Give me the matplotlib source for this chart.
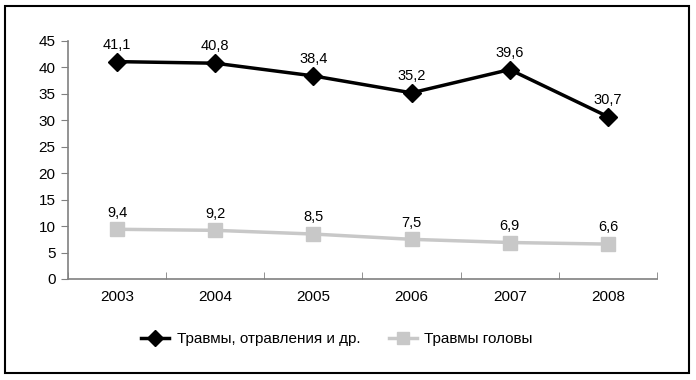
import matplotlib
matplotlib.use("Agg")
import matplotlib.pyplot as plt
from matplotlib.patches import Rectangle

plt.rcParams['font.family'] = ['Liberation Sans', 'DejaVu Sans']

years = ["2003", "2004", "2005", "2006", "2007", "2008"]
injuries = [41.1, 40.8, 38.4, 35.2, 39.6, 30.7]
head = [9.4, 9.2, 8.5, 7.5, 6.9, 6.6]
series_names = ["Травмы, отравления и др.", "Травмы головы"]
yticks = [0, 5, 10, 15, 20, 25, 30, 35, 40, 45]

fig = plt.figure(figsize=(6.96, 3.80), dpi=100)
fig.patches.append(Rectangle((5/696, 1-373/380), 684/696, 367/380, transform=fig.transFigure,
                             fill=False, edgecolor='black', linewidth=1.5))
ax = fig.add_axes([68/696, 1-279/380, (657-68)/696, (279-41)/380])

x = list(range(len(years)))
ax.plot(x, injuries, color='black', linewidth=2.5, marker='D', markersize=9,
        label=series_names[0], zorder=3)
ax.plot(x, head, color='#c8c8c8', linewidth=2.5, marker='s', markersize=10,
        label=series_names[1], zorder=3)

for xi, v in zip(x, injuries):
    ax.annotate(f"{v:.1f}".replace('.', ','), (xi, v), xytext=(0, 7),
                textcoords='offset points', ha='center', va='bottom', fontsize=10.5)
for xi, v in zip(x, head):
    ax.annotate(f"{v:.1f}".replace('.', ','), (xi, v), xytext=(0, 7),
                textcoords='offset points', ha='center', va='bottom', fontsize=10.5)

ax.set_xlim(-0.5, len(years) - 0.5)
ax.set_ylim(0, 45)
ax.set_yticks(yticks)
ax.set_xticks(x)
ax.set_xticklabels(years)
ax.set_xticks([i - 0.5 for i in range(len(years) + 1)], minor=True)
ax.tick_params(axis='x', which='major', length=0, pad=8, labelsize=11)
ax.tick_params(axis='x', which='minor', length=5, direction='in', color='#808080')
ax.tick_params(axis='y', length=5, color='#808080', labelsize=11, pad=4)
for s in ['top', 'right']:
    ax.spines[s].set_visible(False)
for s in ['left', 'bottom']:
    ax.spines[s].set_color('#808080')
    ax.spines[s].set_linewidth(1.2)

leg = fig.legend(loc='center', bbox_to_anchor=(337/696, 1-339/380), ncol=2, frameon=False,
                 fontsize=11, handlelength=1.8, columnspacing=1.9, handletextpad=0.5,
                 markerscale=0.85)

fig.savefig("out.png", dpi=100)
